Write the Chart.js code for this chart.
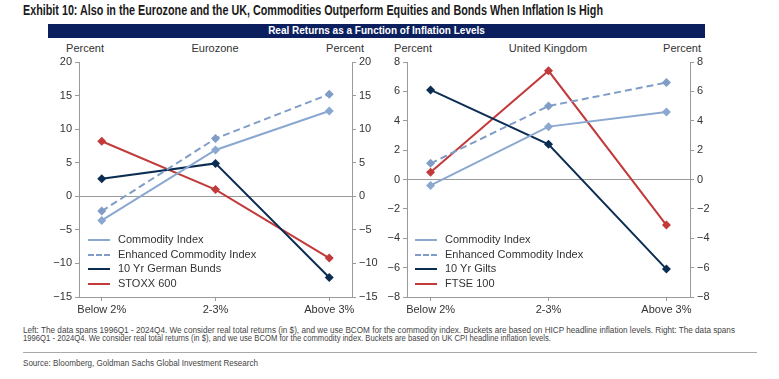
<!DOCTYPE html>
<html>
<head>
<meta charset="utf-8">
<script src="https://cdn.jsdelivr.net/npm/chart.js@4"></script>
<style>
  body { margin: 0; width: 779px; height: 379px; background: #fff; position: relative; overflow: hidden; font-family: 'Liberation Sans', Arial, sans-serif; }
  .abs { position: absolute; white-space: nowrap; }
  .fit { transform-origin: 0 0; }
  .title { left: 23px; top: 2px; font-weight: bold; font-size: 14px; color: #1a1a1a; }
  .banner { left: 48px; top: 24px; width: 657px; height: 14px; background: #0b1f5e; color: #fff; font-weight: bold; font-size: 10px; line-height: 14px; text-align: center; }
  .lbl { font-size: 11px; color: #333; transform: translateX(-50%); top: 42px; }
  .legend { font-size: 11px; color: #333; }
  .legend div { height: 14.5px; line-height: 14.5px; }
  .legend span.ln { display: inline-block; width: 22px; vertical-align: middle; margin-right: 8px; border-top: 2.5px solid; }
  .note { left: 23px; font-size: 8.5px; line-height: 8.5px; color: #444; }
  .rule { left: 23px; top: 352px; width: 734px; height: 1px; background: #aaa; }
  canvas { position: absolute; }
</style>
</head>
<body>
<div class="abs title fit" data-w="580">Exhibit 10: Also in the Eurozone and the UK, Commodities Outperform Equities and Bonds When Inflation Is High</div>
<div class="abs banner">Real Returns as a Function of Inflation Levels</div>

<div class="abs lbl" style="left:85px">Percent</div>
<div class="abs lbl" style="left:215px">Eurozone</div>
<div class="abs lbl" style="left:345px">Percent</div>
<div class="abs lbl" style="left:413px">Percent</div>
<div class="abs lbl" style="left:548px">United Kingdom</div>
<div class="abs lbl" style="left:682px">Percent</div>

<div style="position:absolute;left:0;top:40px;width:380px;height:280px"><canvas id="euChart"></canvas></div>
<div style="position:absolute;left:380px;top:40px;width:399px;height:280px"><canvas id="ukChart"></canvas></div>

<div class="abs legend" style="left:88px;top:232px">
  <div><span class="ln" style="border-color:#8aa8d0"></span>Commodity Index</div>
  <div><span class="ln" style="border-color:#7f9dc6;border-top-style:dashed"></span>Enhanced Commodity Index</div>
  <div><span class="ln" style="border-color:#0c2d52"></span>10 Yr German Bunds</div>
  <div><span class="ln" style="border-color:#c23a3a"></span>STOXX 600</div>
</div>
<div class="abs legend" style="left:415px;top:232px">
  <div><span class="ln" style="border-color:#8aa8d0"></span>Commodity Index</div>
  <div><span class="ln" style="border-color:#7f9dc6;border-top-style:dashed"></span>Enhanced Commodity Index</div>
  <div><span class="ln" style="border-color:#0c2d52"></span>10 Yr Gilts</div>
  <div><span class="ln" style="border-color:#c23a3a"></span>FTSE 100</div>
</div>

<div class="abs note fit" data-w="712" style="top:326px">Left: The data spans 1996Q1 - 2024Q4. We consider real total returns (in $), and we use BCOM for the commodity index. Buckets are based on HICP headline inflation levels. Right: The data spans</div>
<div class="abs note fit" data-w="528" style="top:334px">1996Q1 - 2024Q4. We consider real total returns (in $), and we use BCOM for the commodity index. Buckets are based on UK CPI headline inflation levels.</div>
<div class="abs rule"></div>
<div class="abs note fit" data-w="235" style="top:359px">Source: Bloomberg, Goldman Sachs Global Investment Research</div>

<script>
// squeeze the condensed-looking text to the widths seen in the picture
document.querySelectorAll('.fit').forEach(el => {
  const w = el.getBoundingClientRect().width;
  el.style.transform = 'scaleX(' + (Number(el.dataset.w) / w) + ')';
});

// categories and values
const categories = ['Below 2%', '2-3%', 'Above 3%'];

const euCommodity = [-3.6, 6.9, 12.7];
const euEnhanced = [-2.2, 8.6, 15.2];
const euBunds = [2.6, 4.9, -12.1];
const euStoxx = [8.2, 1.0, -9.2];

const ukCommodity = [-0.4, 3.6, 4.6];
const ukEnhanced = [1.1, 5.0, 6.6];
const ukGilts = [6.1, 2.4, -6.1];
const ukFtse = [0.5, 7.4, -3.1];

const euTicks = [-15, -10, -5, 0, 5, 10, 15, 20];
const ukTicks = [-8, -6, -4, -2, 0, 2, 4, 6, 8];

const LIGHT = '#8aa8d0', DASHED = '#7f9dc6', NAVY = '#0c2d52', RED = '#c23a3a', AXIS = '#9a9a9a';

function pts(arr) {
  return arr.map((v, i) => ({ x: i, y: v }));
}

function series(label, arr, color, dashed) {
  return {
    label: label,
    data: pts(arr),
    borderColor: color,
    backgroundColor: color,
    borderWidth: 2,
    borderDash: dashed ? [7, 4] : [],
    pointStyle: 'rectRot',
    pointRadius: 4.5,
    pointBorderWidth: 0,
    tension: 0
  };
}

function yScale(pos, ticks, width) {
  return {
    type: 'linear',
    position: pos,
    min: ticks[0],
    max: ticks[ticks.length - 1],
    afterBuildTicks: s => { s.ticks = ticks.map(v => ({ value: v })); },
    afterFit: s => { s.width = width; },
    border: { display: true, color: AXIS, width: 1 },
    grid: {
      drawOnChartArea: pos === 'left',
      color: c => (c.tick && c.tick.value === 0 ? AXIS : 'rgba(0,0,0,0)'),
      tickColor: AXIS,
      tickLength: 4
    },
    ticks: {
      color: '#333',
      padding: 3,
      font: { family: "'Liberation Sans', Arial", size: 11 },
      callback: v => String(v).replace('-', '\u2212')
    }
  };
}

function makeChart(id, datasets, ticks, leftW, rightW) {
  new Chart(document.getElementById(id), {
    type: 'line',
    data: { datasets: datasets },
    options: {
      responsive: true,
      maintainAspectRatio: false,
      animation: false,
      layout: { padding: { top: 22, left: 0, right: 0, bottom: 0 } },
      plugins: { legend: { display: false }, tooltip: { enabled: false } },
      scales: {
        x: {
          type: 'linear',
          min: -0.2,
          max: 2.2,
          afterBuildTicks: s => { s.ticks = categories.map((c, i) => ({ value: i })); },
          afterFit: s => { s.height = 23; },
          border: { display: true, color: AXIS, width: 1 },
          grid: { color: 'rgba(0,0,0,0)', tickColor: AXIS, tickLength: 4 },
          ticks: {
            color: '#333',
            padding: 2,
            maxRotation: 0,
            font: { family: "'Liberation Sans', Arial", size: 11 },
            callback: v => categories[v]
          }
        },
        y: yScale('left', ticks, leftW),
        y2: yScale('right', ticks, rightW)
      }
    }
  });
}

makeChart('euChart', [
  series('Commodity Index', euCommodity, LIGHT, false),
  series('Enhanced Commodity Index', euEnhanced, DASHED, true),
  series('10 Yr German Bunds', euBunds, NAVY, false),
  series('STOXX 600', euStoxx, RED, false)
], euTicks, 79, 28);

makeChart('ukChart', [
  series('Commodity Index', ukCommodity, LIGHT, false),
  series('Enhanced Commodity Index', ukEnhanced, DASHED, true),
  series('10 Yr Gilts', ukGilts, NAVY, false),
  series('FTSE 100', ukFtse, RED, false)
], ukTicks, 27, 89);
</script>
</body>
</html>
